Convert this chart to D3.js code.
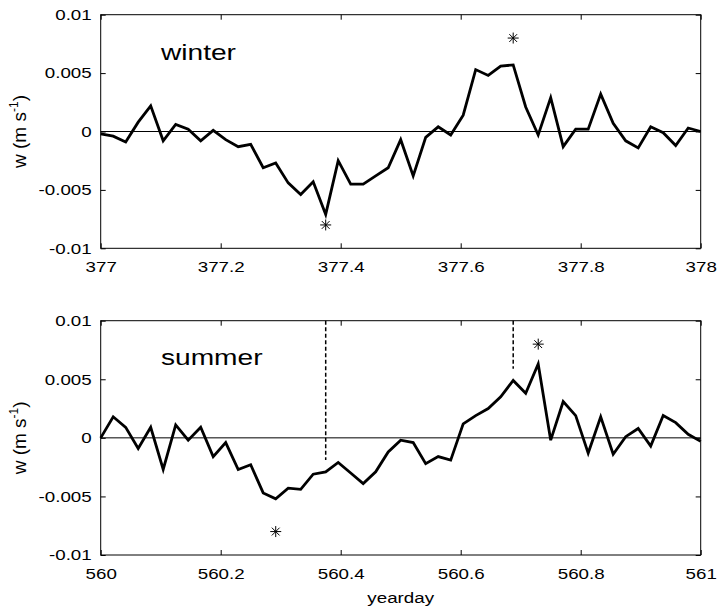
<!DOCTYPE html>
<html><head><meta charset="utf-8">
<script src="https://cdn.jsdelivr.net/npm/d3@7"></script>
<style>
body{margin:0;background:#fff}
text{font-family:"Liberation Sans",Arial,Helvetica,sans-serif;fill:#000}
</style>
</head><body>
<svg id="chart" width="721" height="613"></svg>
<script>
// ---- data ----
const samplesPerDay = 48; // half-hourly samples
const winterStart = 377;
const summerStart = 560;
const winterW = [-0.0002,-0.0004,-0.0009,0.0008,0.0022,-0.0008,0.0006,0.0002,-0.0008,0.0001,
  -0.0007,-0.0013,-0.0011,-0.0031,-0.0027,-0.0044,-0.0054,-0.0043,-0.0071,-0.0025,
  -0.0045,-0.0045,-0.0038,-0.0031,-0.0007,-0.0038,-0.0005,0.0004,-0.0003,0.0014,
  0.0053,0.0048,0.0056,0.0057,0.0021,-0.0003,0.0029,-0.0013,0.0002,0.0002,
  0.0032,0.0007,-0.0008,-0.0014,0.0004,-0.0001,-0.0012,0.0003,0.0000];
const summerW = [0.0000,0.0018,0.0009,-0.0009,0.0009,-0.0027,0.0011,-0.0002,0.0009,-0.0016,
  -0.0004,-0.0027,-0.0023,-0.0047,-0.0052,-0.0043,-0.0044,-0.0031,-0.0029,-0.0021,
  -0.0030,-0.0039,-0.0029,-0.0012,-0.0002,-0.0004,-0.0022,-0.0016,-0.0019,0.0012,
  0.0019,0.0025,0.0035,0.0049,0.0038,0.0063,-0.0002,0.0031,0.0019,-0.0013,
  0.0018,-0.0014,0.0001,0.0008,-0.0007,0.0019,0.0013,0.0003,-0.0003];
const winterStarX = [377.375, 377.6875];
const winterStarY = [-0.008, 0.008];
const summerStarX = [560.2917, 560.7292];
const summerStarY = [-0.008, 0.008];
const summerDashX = [560.375, 560.6875];
const summerDashY0 = [0.01, 0.01];
const summerDashY1 = [-0.0019, 0.0059];
const yTickValues = [-0.01, -0.005, 0, 0.005, 0.01];
const yTickLabels = ["-0.01", "-0.005", "0", "0.005", "0.01"];
const winterXTickLabels = ["377", "377.2", "377.4", "377.6", "377.8", "378"];
const summerXTickLabels = ["560", "560.2", "560.4", "560.6", "560.8", "561"];
const xTickOffsets = [0, 0.2, 0.4, 0.6, 0.8, 1];

// ---- drawing ----
const svg = d3.select("#chart");
const SX = 1.25; // horizontal text stretch seen in the reference

const panels = [
  {name: "winter", start: winterStart, w: winterW, starX: winterStarX, starY: winterStarY,
   dashX: [], dashY0: [], dashY1: [], labels: winterXTickLabels, top: 14.7, bottom: 248.3, labelY: 60},
  {name: "summer", start: summerStart, w: summerW, starX: summerStarX, starY: summerStarY,
   dashX: summerDashX, dashY0: summerDashY0, dashY1: summerDashY1, labels: summerXTickLabels, top: 320.7, bottom: 555, labelY: 365}
];
const left = 100.7, right = 700.7;

// asterisk symbol (8 spokes)
const asterisk = {
  draw(ctx, size) {
    const r = Math.sqrt(size) / 2;
    const d = r * Math.SQRT1_2;
    ctx.moveTo(0, -r); ctx.lineTo(0, r);
    ctx.moveTo(-r, 0); ctx.lineTo(r, 0);
    ctx.moveTo(-d, -d); ctx.lineTo(d, d);
    ctx.moveTo(-d, d); ctx.lineTo(d, -d);
  }
};

panels.forEach(p => {
  const x = d3.scaleLinear().domain([p.start, p.start + 1]).range([left, right]);
  const y = d3.scaleLinear().domain([-0.01, 0.01]).range([p.bottom, p.top]);
  const xTicks = xTickOffsets.map(o => p.start + o);
  const g = svg.append("g");

  // zero line
  g.append("line").attr("x1", x(p.start)).attr("x2", x(p.start + 1))
    .attr("y1", y(0)).attr("y2", y(0)).attr("stroke", "#000").attr("stroke-width", 1);

  // dashed markers
  p.dashX.forEach((dx, i) => {
    g.append("line").attr("x1", x(dx)).attr("x2", x(dx))
      .attr("y1", y(p.dashY0[i])).attr("y2", y(p.dashY1[i]))
      .attr("stroke", "#000").attr("stroke-width", 1.5).attr("stroke-dasharray", "4,2.5");
  });

  // data line
  const pts = p.w.map((v, i) => [p.start + i / samplesPerDay, v]);
  g.append("path").datum(pts)
    .attr("d", d3.line().x(d => x(d[0])).y(d => y(d[1])))
    .attr("fill", "none").attr("stroke", "#000").attr("stroke-width", 2.8)
    .attr("stroke-linejoin", "miter");

  // asterisks
  p.starX.forEach((sx, i) => {
    g.append("path").attr("d", d3.symbol().type(asterisk).size(121)())
      .attr("transform", `translate(${x(sx)},${y(p.starY[i])})`)
      .attr("fill", "none").attr("stroke", "#000").attr("stroke-width", 1);
  });

  // axes
  const axL = g.append("g").attr("transform", `translate(${left},0)`)
    .call(d3.axisLeft(y).tickValues(yTickValues).tickFormat((d, i) => yTickLabels[i])
      .tickSizeInner(-5).tickSizeOuter(0).tickPadding(7.2));
  const axR = g.append("g").attr("transform", `translate(${right},0)`)
    .call(d3.axisRight(y).tickValues(yTickValues).tickFormat("").tickSizeInner(-5).tickSizeOuter(0));
  const axB = g.append("g").attr("transform", `translate(0,${p.bottom})`)
    .call(d3.axisBottom(x).tickValues(xTicks).tickFormat((d, i) => p.labels[i])
      .tickSizeInner(-5).tickSizeOuter(0).tickPadding(13));
  const axT = g.append("g").attr("transform", `translate(0,${p.top})`)
    .call(d3.axisTop(x).tickValues(xTicks).tickFormat("").tickSizeInner(-5).tickSizeOuter(0));
  [axL, axR, axB, axT].forEach(a => {
    a.select(".domain").remove();
    a.selectAll(".tick line").attr("stroke", "#000").attr("stroke-width", 1);
    a.selectAll("text").attr("font-size", 15).attr("font-family", "Liberation Sans, Arial, sans-serif")
      .attr("fill", "#000").attr("transform", `scale(${SX},1)`);
  });

  // frame
  g.append("rect").attr("x", left).attr("y", p.top)
    .attr("width", right - left).attr("height", p.bottom - p.top)
    .attr("fill", "none").attr("stroke", "#000").attr("stroke-width", 1);

  // season label
  g.append("text").attr("transform", `translate(161,${p.labelY}) scale(${SX},1)`)
    .attr("font-size", 22.5).text(p.name);

  // y label
  const yl = g.append("text")
    .attr("transform", `translate(26,${(p.top + p.bottom) / 2}) rotate(-90)`)
    .attr("text-anchor", "middle").attr("font-size", 19);
  yl.append("tspan").text("w (m s");
  yl.append("tspan").attr("font-size", 12).attr("dy", -8).text("-1");
  yl.append("tspan").attr("dy", 8).text(")");
});

svg.append("text").attr("transform", `translate(400.7,603) scale(${SX},1)`)
  .attr("text-anchor", "middle").attr("font-size", 15).text("yearday");
</script>
</body></html>
